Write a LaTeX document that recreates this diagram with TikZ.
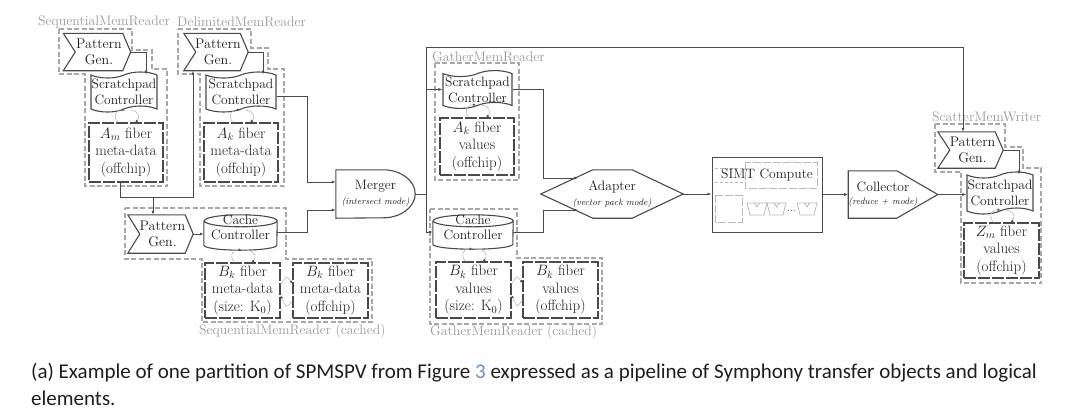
\documentclass[tikz,border=0pt]{standalone}
\usepackage{fix-cm}
\usepackage{fontspec}
\newfontfamily\capfont{Carlito}
\usetikzlibrary{shapes.symbols,calc,arrows.meta}
\definecolor{grp}{HTML}{A8A8A8}
\definecolor{lbl}{HTML}{9A9A9A}
\definecolor{ln}{HTML}{4A4A4A}
\definecolor{lt}{HTML}{B8B8B8}
\definecolor{tx}{HTML}{1E1E1E}
\definecolor{linkc}{HTML}{6A8FC0}
\tikzset{
  conn/.style={draw=ln, line width=0.9pt, -{Latex[length=4pt,width=3pt]}},
  shp/.style={draw=ln, line width=1.1pt},
  grpbox/.style={draw=grp, line width=1.7pt, dash pattern=on 5pt off 2.5pt},
  mem/.style={draw=ln, line width=1.1pt, dash pattern=on 12pt off 2pt, minimum width=75pt, minimum height=56pt, align=center, inner sep=0pt, text=tx, font=\fontsize{15}{17.5}\selectfont},
  pgen/.style={minimum width=65pt, minimum height=37pt, inner sep=0pt, align=center, text=tx, font=\fontsize{14}{16.5}\selectfont},
  spad/.style={tape, shp, tape bend height=6pt, minimum width=67pt, minimum height=40pt, inner sep=0pt, align=center, text=tx, font=\fontsize{13.6}{16}\selectfont},
  cyl/.style={minimum width=75pt, minimum height=35pt, inner sep=0pt},
  logic/.style={inner sep=0pt, align=center, text=tx, font=\fontsize{13.6}{16}\selectfont},
  cyltext/.style={inner sep=0pt, align=center, text=tx, font=\fontsize{13.6}{15}\selectfont},
  grplabel/.style={text=lbl, anchor=west, inner sep=0pt, font=\fontsize{13.8}{15}\selectfont},
  curv/.style={draw=lt, line width=0.6pt, -{Latex[length=3pt,width=2.5pt,color=ln]}},
  lite/.style={draw=lt, line width=0.8pt},
}
\newcommand\subt[1]{{\fontsize{9.3}{11}\selectfont\itshape #1}}
\newcommand\pgshape[1]{\draw[shp] (#1.north west) -- ($(#1.north east)+(-8,0)$) -- (#1.east) -- ($(#1.south east)+(-8,0)$) -- (#1.south west) -- ($(#1.west)+(12,0)$) -- cycle;}
\newcommand\cylshape[2]{\draw[shp] ($(#1.north west)+(0,6)$) -- ($(#1.south west)+(0,-5)$) arc[start angle=180,end angle=360,x radius=#2pt,y radius=5pt] -- ($(#1.north east)+(0,6)$) arc[start angle=0,end angle=360,x radius=#2pt,y radius=6pt];}
\newcommand\cmcurves[1]{%
  \draw[curv] ($(#1.north)+(-8,0)$) .. controls ($(#1.north)+(-15,-8)$) and ($(#1.north)+(-7,-14)$) .. ($(#1.north)+(-1,-12)$);
  \draw[curv] ($(#1.north)+(5,-12)$) .. controls ($(#1.north)+(13,-12)$) and ($(#1.north)+(14,-4)$) .. ($(#1.north)+(9,0)$);}
\newcommand\mmcurves[2]{%
  \draw[curv] ($(#1.east)+(0,-6)$) .. controls ($(#1.east)+(6,-15)$) and ($(#2.west)+(-6,-15)$) .. ($(#2.west)+(0,-7)$);
  \draw[curv] ($(#2.west)+(0,10)$) .. controls ($(#2.west)+(-6,18)$) and ($(#1.east)+(6,18)$) .. ($(#1.east)+(0,5)$);}
\begin{document}
\begin{tikzpicture}[x=1pt,y=-1pt]
\useasboundingbox (0,0) rectangle (1090,416);

% ---------- group outlines ----------
\draw[grpbox] (59,29) -- (132,29) -- (132,50) -- (152,50) -- (152,69) -- (167,69) -- (167,186) -- (85,186) -- (85,74) -- (59,74) -- cycle;
\draw[grpbox] (178,29) -- (251,29) -- (251,48) -- (268,48) -- (268,69) -- (284,69) -- (284,186) -- (200,186) -- (200,74) -- (178,74) -- cycle;
\draw[grpbox] (125,208) -- (286,208) -- (286,259) -- (372,259) -- (372,322) -- (202,322) -- (202,259) -- (125,259) -- cycle;
\draw[grpbox] (435,63) rectangle (519,180);
\draw[grpbox] (430,209) -- (517,209) -- (517,258) -- (602,258) -- (602,324) -- (430,324) -- cycle;
\draw[grpbox] (935,124) -- (1005,124) -- (1005,147) -- (1023,147) -- (1023,168) -- (1041,168) -- (1041,283) -- (961,283) -- (961,172) -- (935,172) -- cycle;

\node[grplabel] (l1) at (38,22) {SequentialMemReader};
\node[grplabel] (l2) at (177,22) {DelimitedMemReader};
\node[grplabel] (l3) at (199,331) {SequentialMemReader (cached)};
\node[grplabel] (l4) at (432,57) {GatherMemReader};
\node[grplabel] (l5) at (430,332) {GatherMemReader (cached)};
\node[grplabel] (l6) at (932,117) {ScatterMemWriter};

% ---------- SequentialMemReader ----------
\node[pgen, minimum width=67pt] (pg1) at (97,52) {\hspace*{4pt}Pattern\\\hspace*{4pt}Gen.};
\pgshape{pg1}
\node[spad, minimum width=66pt] (sp1) at (124,92) {Scratchpad\\Controller};
\node[mem, minimum width=74pt, minimum height=59pt] (m1) at (126,152.5) {$A_m$ fiber\\meta-data\\(offchip)};
\cmcurves{m1}

% ---------- DelimitedMemReader ----------
\node[pgen, minimum width=64pt] (pg2) at (216,52) {\hspace*{4pt}Pattern\\\hspace*{4pt}Gen.};
\pgshape{pg2}
\node[spad, minimum width=70pt] (sp2) at (241,92) {Scratchpad\\Controller};
\node[mem, minimum width=74pt, minimum height=59pt] (m2) at (241,152.5) {$A_k$ fiber\\meta-data\\(offchip)};
\cmcurves{m2}

% ---------- SequentialMemReader (cached) ----------
\node[pgen, minimum height=38pt] (pg3) at (160.5,234) {\hspace*{4pt}Pattern\\\hspace*{4pt}Gen.};
\pgshape{pg3}
\node[cyl, minimum width=73pt] (cc1) at (240.5,232.5) {};
\cylshape{cc1}{36.5}
\node[cyltext] (cc1t) at ($(cc1.center)+(0,-5)$) {Cache\\Controller};
\node[mem, minimum height=55pt] (mb1) at (242.5,290.5) {$B_k$ fiber\\meta-data\\(size: K$_0$)};
\node[mem, minimum height=55pt] (mb2) at (330.5,290.5) {$B_k$ fiber\\meta-data\\(offchip)};
\cmcurves{mb1}
\mmcurves{mb1}{mb2}

% ---------- Merger ----------
\node[logic, minimum width=79pt, minimum height=48pt] (mg) at (375.5,194) {Merger\\[-1pt]\subt{(intersect mode)}};
\draw[shp] (mg.north west) -- ($(mg.north east)+(-32,0)$) arc[start angle=90,end angle=-90,x radius=32pt,y radius=24pt] -- (mg.south west) -- cycle;

% ---------- GatherMemReader ----------
\node[spad, minimum width=69pt, minimum height=36pt] (sp3) at (477.5,89.5) {Scratchpad\\Controller};
\node[mem, minimum width=74pt, minimum height=57pt] (m3) at (477,146.5) {$A_k$ fiber\\values\\(offchip)};
\cmcurves{m3}

% ---------- GatherMemReader (cached) ----------
\node[cyl, minimum width=80pt, minimum height=34pt] (cc2) at (473,232) {};
\cylshape{cc2}{40}
\node[cyltext] (cc2t) at ($(cc2.center)+(0,-5)$) {Cache\\Controller};
\node[mem] (mg1) at (473.5,290) {$B_k$ fiber\\values\\(size: K$_0$)};
\node[mem] (mg2) at (560.5,290) {$B_k$ fiber\\values\\(offchip)};
\cmcurves{mg1}
\mmcurves{mg1}{mg2}

% ---------- Adapter ----------
\node[logic, minimum width=142pt, minimum height=48pt] (ad) at (612,194) {Adapter\\[-1pt]\subt{(vector pack mode)}};
\draw[shp] (ad.west) -- ($(ad.north west)+(52,0)$) -- ($(ad.north east)+(-51,0)$) -- (ad.east) -- ($(ad.south east)+(-51,0)$) -- ($(ad.south west)+(52,0)$) -- cycle;

% ---------- SIMT Compute ----------
\node[draw=ln, line width=1pt, minimum width=110pt, minimum height=75pt, inner sep=0pt] (simt) at (767,194.5) {};
\draw[lite, dash pattern=on 8pt off 2pt] (745,162) rectangle (817,188);
\draw[lite, dash pattern=on 3pt off 2pt] (715,168) -- (745,168);
\draw[lite, dash pattern=on 3pt off 2pt] (715,182) -- (745,182);
\draw[lite, dash pattern=on 8pt off 2pt] (715,195) rectangle (742,222);
\foreach \a/\b in {747/767, 767/786, 797/817}{
  \draw[lite] (\a,203) -- (\b,203) -- (\b-3,215) -- (\a+3,215) -- cycle;
  \draw[lite] ({(\a+\b)/2-2.5},203) -- ({(\a+\b)/2},207) -- ({(\a+\b)/2+2.5},203);
}
\node[inner sep=0pt, text=ln, font=\fontsize{10}{10}\selectfont] (dots) at (791.5,211) {...};
\node[logic] (simtl) at (767,175) {SIMT Compute};

% ---------- Collector ----------
\node[logic, minimum width=88pt, minimum height=47pt] (col) at (893,194.5) {\begin{tabular}{@{}c@{}}Collector\\[-3pt]\subt{(reduce + mode)}\end{tabular}\hspace*{20pt}};
\draw[shp] (col.north west) -- ($(col.north east)+(-41,0)$) -- (col.east) -- ($(col.south east)+(-41,0)$) -- (col.south west) -- cycle;

% ---------- ScatterMemWriter ----------
\node[pgen, minimum height=36pt] (pg4) at (970.5,150) {\hspace*{4pt}Pattern\\\hspace*{4pt}Gen.};
\pgshape{pg4}
\node[spad, minimum width=66pt, minimum height=42pt] (sp4) at (1000,193) {Scratchpad\\Controller};
\node[mem, minimum height=55pt] (m4) at (1001.5,250.5) {$Z_m$ fiber\\values\\(offchip)};
\cmcurves{m4}

% ---------- connectors ----------
\draw[conn] (pg1.east) -| ([xshift=22pt]sp1.north);
\draw[conn] (pg2.east) -| ([xshift=22pt]sp2.north);
\coordinate (m1out) at ([xshift=-6pt]m1.south);
\coordinate (pg2in) at ([xshift=-23pt]pg2.south);
\coordinate (j1) at (pg2in |- 0,197);
\draw[conn] (m1out) |- (j1) -- (pg2in);
\coordinate (pg3in) at ([xshift=-7.5pt]pg3.north);
\coordinate (j2) at (pg3in |- j1);
\draw[conn] (m1out) |- (j2) -- (pg3in);
\draw[conn] (pg3.east) -- (pg3.east -| cc1.west);
\coordinate (mgin1) at ($(mg.west)+(0,-12)$);
\coordinate (mgin2) at ($(mg.west)+(0,16)$);
\draw[conn] (cc1.east) -| ($(mgin2)+(-28,0)$) -- (mgin2);
\draw[conn] ($(sp2.east)+(0,4)$) -| ($(mgin1)+(-28,0)$) -- (mgin1);
\coordinate (jm) at ($(mg.east)+(11,0)$);
\coordinate (pg4in) at ([xshift=-7.5pt]pg4.north);
\coordinate (fb) at (pg4in |- 0,47);
\draw[conn] (mg.east) -- (jm) |- (fb) -- (pg4in);
\draw[conn] (mg.east) -- (jm) |- (sp3.west);
\draw[conn] (mg.east) -- (jm) |- (cc2.west);
\coordinate (adin1) at ($(ad.center)+(-34,-16)$);
\coordinate (adin2) at ($(ad.center)+(-34,16)$);
\draw[conn] (sp3.east) -| ($(adin1)+(-35,0)$) -- (adin1);
\draw[conn] (cc2.east) -| ($(adin2)+(-35,0)$) -- (adin2);
\draw[conn] (ad.east) -- (ad.east -| simt.west);
\draw[conn] (simt.east) -- (simt.east -| col.west);
\draw[conn] (col.east) -- (col.east -| sp4.west);
\draw[conn] (pg4.east) -| ([xshift=19pt]sp4.north);

% ---------- caption ----------
\node[anchor=west, inner sep=0pt, text=tx, font=\capfont\fontsize{21}{25}\selectfont] (cap1) at (31,373) {(a) Example of one partition of SPMSPV from Figure {\color{linkc}3} expressed as a pipeline of Symphony transfer objects and logical};
\node[anchor=west, inner sep=0pt, text=tx, font=\capfont\fontsize{21}{25}\selectfont] (cap2) at (31,398) {elements.};
\end{tikzpicture}
\end{document}
